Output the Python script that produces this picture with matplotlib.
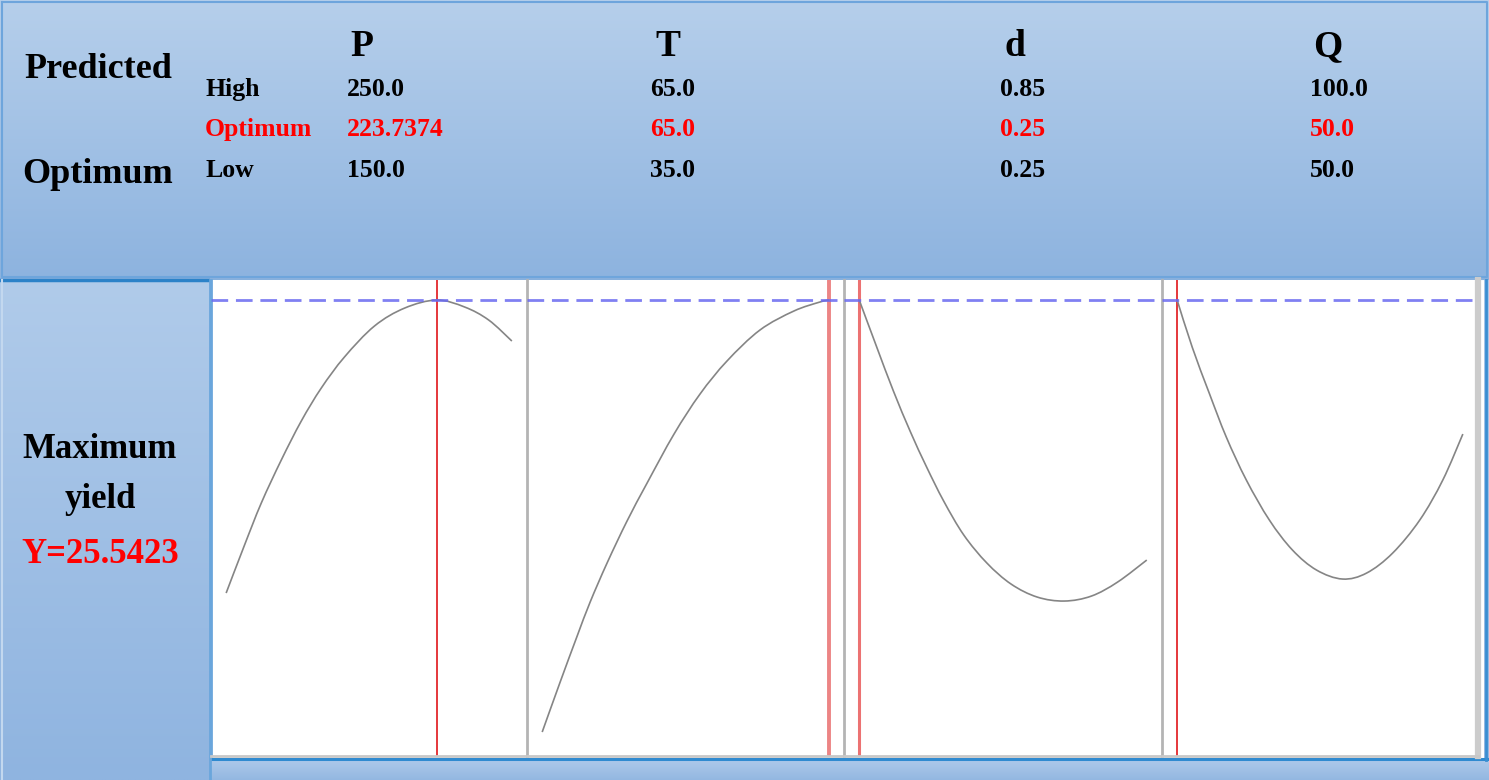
import matplotlib
matplotlib.use("Agg")
import matplotlib.pyplot as plt
import numpy as np
from matplotlib.colors import LinearSegmentedColormap
from matplotlib.path import Path
from matplotlib.patches import PathPatch

plt.rcParams.update({
    "font.family": ["Liberation Serif", "DejaVu Serif"],
    "font.weight": "bold",
})

W, H = 1489, 780

# ---- header table -------------------------------------------------------
FACTORS = ["P", "T", "d", "Q"]
HIGH_TXT = ["250.0", "65.0", "0.85", "100.0"]
OPT_TXT = ["223.7374", "65.0", "0.25", "50.0"]
LOW_TXT = ["150.0", "35.0", "0.25", "50.0"]
LOW = [150.0, 35.0, 0.25, 50.0]
HIGH = [250.0, 65.0, 0.85, 100.0]
OPT = [223.7374, 65.0, 0.25, 50.0]
Y_OPT = 25.5423

# ---- response traces -----------------------------------------------------
P_X = [150.0, 156.3, 162.3, 169.3, 176.3, 183.3, 191.4, 201.9, 212.5, 223.7, 233.5, 241.9, 250.0]
P_Y = [10.89, 13.24, 15.39, 17.54, 19.49, 21.14, 22.69, 24.24, 25.14, 25.54, 25.19, 24.54, 23.49]

T_X = [35.0, 36.88, 38.66, 40.02, 41.79, 43.88, 45.98, 48.80, 51.52, 54.34, 57.79, 61.34, 64.06, 65.0]
T_Y = [3.94, 6.44, 8.74, 10.44, 12.39, 14.49, 16.39, 18.84, 20.84, 22.49, 24.04, 24.99, 25.44, 25.54]

D_X = [0.25, 0.2857, 0.3213, 0.3570, 0.3906, 0.4262, 0.4682, 0.5164, 0.5668, 0.6213, 0.6780, 0.7346, 0.7892, 0.85]
D_Y = [25.54, 23.24, 20.99, 18.94, 17.19, 15.49, 13.79, 12.39, 11.34, 10.69, 10.49, 10.74, 11.44, 12.54]

Q_X = [50.0, 52.63, 55.61, 58.60, 62.11, 66.14, 70.18, 74.39, 78.95, 83.16, 87.72, 92.46, 96.49, 100.0]
Q_Y = [25.54, 23.19, 20.89, 18.69, 16.54, 14.54, 13.04, 12.04, 11.59, 11.89, 12.89, 14.54, 16.54, 18.84]

CURVES = [(P_X, P_Y), (T_X, T_Y), (D_X, D_Y), (Q_X, Q_Y)]


def smooth_path(xs, ys):
    # draw through the read points with cubic segments (Catmull-Rom handles)
    p = np.column_stack([xs, ys])
    n = len(p)
    verts, codes = [p[0]], [Path.MOVETO]
    for k in range(n - 1):
        p0 = p[k - 1] if k > 0 else p[k]
        p1, p2 = p[k], p[k + 1]
        p3 = p[k + 2] if k + 2 < n else p[k + 1]
        verts += [p1 + (p2 - p0) / 6.0, p2 - (p3 - p1) / 6.0, p2]
        codes += [Path.CURVE4] * 3
    return Path(verts, codes)


fig = plt.figure(figsize=(W / 100, H / 100), dpi=100)
fig.patch.set_facecolor("white")

bg = fig.add_axes([0, 0, 1, 1])
bg.set_axis_off()


def grad(x0, x1, y0, y1, c0, c1):
    cm = LinearSegmentedColormap.from_list("g", [c0, c1])
    g = np.linspace(0, 1, 256)[:, None]
    bg.imshow(g, extent=(x0, x1, y1, y0), aspect="auto", cmap=cm, origin="upper",
              interpolation="bilinear", zorder=0)


grad(0, W, 0, 279, "#b6cfeb", "#8db3df")        # header
grad(0, 210, 281, H, "#b0cbea", "#8fb4e0")      # left label column
grad(211, W, 760, H, "#adc9ea", "#93b7e1")      # bottom strip
grad(1484, W, 279, 760, "#a9c7ea", "#93b7e1")   # right edge
bg.plot([2, W - 2, W - 2, 2, 2], [2, 2, 277, 277, 2], color="#6ea5dc", lw=1.5, zorder=2)
bg.plot([0, 210], [280, 280], color="#2c82c8", lw=2.5, zorder=2)
bg.plot([211, W], [279, 279], color="#88b0dd", lw=1.5, zorder=2)
bg.plot([211, W], [759, 759], color="#2f8ad0", lw=2.2, zorder=2)
bg.plot([210, 210], [280, H], color="#6aa6dc", lw=2.0, zorder=2)
bg.plot([1486, 1486], [280, 760], color="#3a8ed2", lw=2.0, zorder=2)
bg.plot([2, 2], [280, H], color="#c3d8ef", lw=1.5, zorder=2)
bg.set_xlim(0, W)
bg.set_ylim(H, 0)

# header texts
bg.text(98, 78, "Predicted", fontsize=26, ha="center", va="baseline")
bg.text(98, 183, "Optimum", fontsize=26, ha="center", va="baseline")
bg.text(205, 96, "High", fontsize=18.5, ha="left", va="baseline")
bg.text(205, 136, "Optimum", fontsize=18.5, ha="left", va="baseline", color="red")
bg.text(205, 177, "Low", fontsize=18.5, ha="left", va="baseline")
col_x = [347, 650, 1000, 1310]
head_x = [362, 668, 1015, 1328]
for i in range(4):
    bg.text(head_x[i], 56, FACTORS[i], fontsize=27, ha="center", va="baseline")
    bg.text(col_x[i], 96, HIGH_TXT[i], fontsize=18.5, ha="left", va="baseline")
    bg.text(col_x[i], 136, OPT_TXT[i], fontsize=18.5, ha="left", va="baseline", color="red")
    bg.text(col_x[i], 177, LOW_TXT[i], fontsize=18.5, ha="left", va="baseline")

# left column texts
bg.text(100, 458, "Maximum", fontsize=25, ha="center", va="baseline")
bg.text(100, 508, "yield", fontsize=25, ha="center", va="baseline")
bg.text(100, 563, "Y=25.5423", fontsize=25, ha="center", va="baseline", color="red")

# ---- panels ---------------------------------------------------------------
edges = [211, 527, 844, 1162, 1478]
top_px, bot_px = 280, 756
ylo = Y_OPT - (bot_px - 300) / 20.0
yhi = Y_OPT + (300 - top_px) / 20.0
red_style = [("#e3282c", 1.3), ("#ec8585", 2.8), ("#ec7272", 2.2), ("#e3282c", 1.3)]

for i, (xs, ys) in enumerate(CURVES):
    l, r = edges[i], edges[i + 1]
    ax = fig.add_axes([l / W, 1 - bot_px / H, (r - l) / W, (bot_px - top_px) / H])
    ax.set_facecolor("white")
    rng = HIGH[i] - LOW[i]
    ax.set_xlim(LOW[i] - 0.053 * rng, HIGH[i] + 0.053 * rng)
    ax.set_ylim(ylo, yhi)
    ax.set_xticks([]); ax.set_yticks([])
    for s in ("top", "right"):
        ax.spines[s].set_visible(False)
    ax.spines["bottom"].set_color("#c8c8c8")
    ax.spines["bottom"].set_linewidth(2.0)
    ax.spines["left"].set_color("#6aa6dc" if i == 0 else "#b4b4b4")
    ax.spines["left"].set_linewidth(2.0)
    if i == 3:
        ax.spines["right"].set_visible(True)
        ax.spines["right"].set_color("#cccccc")
        ax.spines["right"].set_linewidth(4.5)
    ax.add_patch(PathPatch(smooth_path(xs, ys), fill=False, edgecolor="#858585",
                           lw=1.2, zorder=3))
    c, lw = red_style[i]
    ax.axvline(OPT[i], color=c, lw=lw, zorder=2)
    ax.axhline(Y_OPT, color="#6a6af0", lw=2.0, dashes=(6, 2.8), alpha=0.85, zorder=4)

fig.savefig("out.png", dpi=100)
